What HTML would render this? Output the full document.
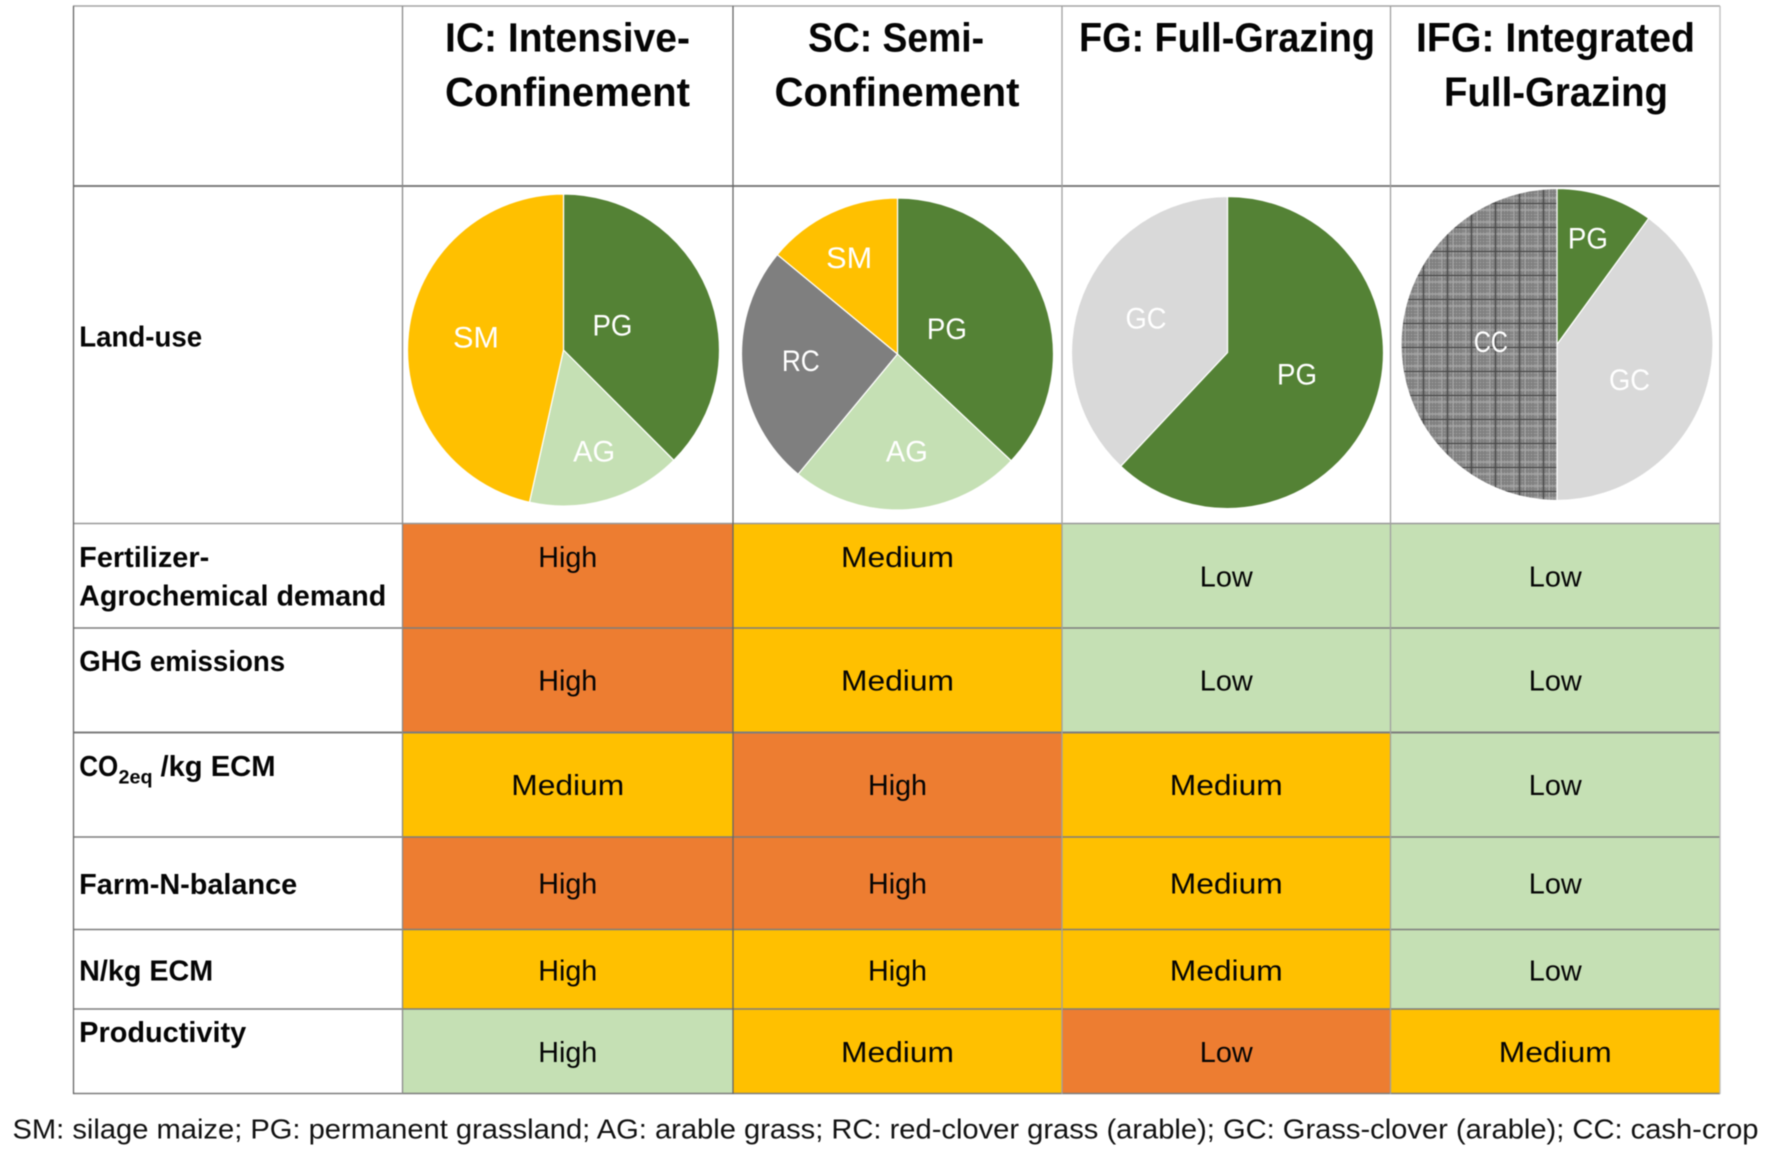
<!DOCTYPE html>
<html lang="en">
<head>
<meta charset="utf-8">
<title>Dairy system comparison</title>
<style>
  html, body { margin: 0; padding: 0; background: #fff; }
  #chart { display: block; width: 1772px; height: 1153px; filter: blur(0.5px); }
  text { font-family: "Liberation Sans", sans-serif; fill: #050505; }
  .hdr { font-size: 41px; font-weight: bold; text-anchor: middle; }
  .row { font-size: 28.5px; font-weight: bold; }
  .val { font-size: 28.5px; text-anchor: middle; }
  .lbl { font-size: 29.5px; text-anchor: middle; fill: #fff; }
  .foot { font-size: 28px; fill: #111; }
  .h { stroke: #7d7d7d; stroke-width: 1.5; }
  .v { stroke: #8a8a8a; stroke-width: 1.3; }
</style>
</head>
<body>
<svg id="chart" xmlns="http://www.w3.org/2000/svg" width="1772" height="1153" viewBox="0 0 1772 1153">
  <defs>
    <pattern id="cash-crop-hatch" patternUnits="userSpaceOnUse" x="1440" y="300" width="24" height="24">
      <rect width="24" height="24" fill="#929292"/>
      <path d="M3 0V24M6 0V24M9 0V24M12 0V24M15 0V24M18 0V24M21 0V24M0 3H24M0 9H24M0 12H24M0 15H24M0 21H24" stroke="#7b7b7b" stroke-width="1"/>
      <path d="M2 0V24M13 0V24M0 6H24M0 18H24" stroke="#ababab" stroke-width="1"/>
      <path d="M7.5 0V24M0 23.5H24" stroke="#444" stroke-width="1.2"/>
    </pattern>
  </defs>

  <rect x="0" y="0" width="1772" height="1153" fill="#fff"/>
  <g id="cells"></g>
  <g id="pies"></g>

  <g>
    <line class="h" x1="73" x2="1720" y1="6" y2="6" style="stroke:#a5a5a5"/>
    <line class="h" x1="73" x2="1720" y1="186" y2="186" style="stroke-width:2"/>
    <line class="h" x1="73" x2="1720" y1="523.5" y2="523.5" style="stroke:#999"/>
    <line class="h" x1="73" x2="1720" y1="628" y2="628"/>
    <line class="h" x1="73" x2="1720" y1="732.5" y2="732.5" style="stroke-width:2"/>
    <line class="h" x1="73" x2="1720" y1="837" y2="837"/>
    <line class="h" x1="73" x2="1720" y1="929.5" y2="929.5"/>
    <line class="h" x1="73" x2="1720" y1="1009" y2="1009"/>
    <line class="h" x1="73" x2="1720" y1="1093.5" y2="1093.5"/>
    <line class="v" x1="73.5" x2="73.5" y1="6" y2="1094" style="stroke:#666"/>
    <line class="v" x1="402.5" x2="402.5" y1="6" y2="1094"/>
    <line class="v" x1="733" x2="733" y1="6" y2="1094" style="stroke:#666"/>
    <line class="v" x1="1062" x2="1062" y1="6" y2="1094" style="stroke:#a0a0a0"/>
    <line class="v" x1="1390.5" x2="1390.5" y1="6" y2="1094" style="stroke:#a0a0a0"/>
    <line class="v" x1="1720" x2="1720" y1="6" y2="1094" style="stroke:#bcbcbc"/>
  </g>

  <g>
    <text class="hdr" x="567.5" y="51.5" textLength="245" lengthAdjust="spacingAndGlyphs">IC: Intensive-</text>
    <text class="hdr" x="567.5" y="106" textLength="245" lengthAdjust="spacingAndGlyphs">Confinement</text>
    <text class="hdr" x="896" y="51.5" textLength="176" lengthAdjust="spacingAndGlyphs">SC: Semi-</text>
    <text class="hdr" x="897" y="106" textLength="245" lengthAdjust="spacingAndGlyphs">Confinement</text>
    <text class="hdr" x="1227" y="51.5" textLength="296" lengthAdjust="spacingAndGlyphs">FG: Full-Grazing</text>
    <text class="hdr" x="1555.5" y="51.5" textLength="279" lengthAdjust="spacingAndGlyphs">IFG: Integrated</text>
    <text class="hdr" x="1556" y="106" textLength="224" lengthAdjust="spacingAndGlyphs">Full-Grazing</text>
  </g>

  <g>
    <text class="row" x="79.2" y="346.3" textLength="123" lengthAdjust="spacingAndGlyphs">Land-use</text>
    <text class="row" x="79.2" y="567" textLength="130" lengthAdjust="spacingAndGlyphs">Fertilizer-</text>
    <text class="row" x="79.2" y="605.5" textLength="307" lengthAdjust="spacingAndGlyphs">Agrochemical demand</text>
    <text class="row" x="79.2" y="671" textLength="206" lengthAdjust="spacingAndGlyphs">GHG emissions</text>
    <text class="row" x="79.2" y="775.8" textLength="39" lengthAdjust="spacingAndGlyphs">CO</text>
    <text class="row" x="118.5" y="783.3" textLength="34" lengthAdjust="spacingAndGlyphs" style="font-size:19px">2eq</text>
    <text class="row" x="160.5" y="775.8" textLength="115" lengthAdjust="spacingAndGlyphs">/kg ECM</text>
    <text class="row" x="79.2" y="893.8" textLength="218" lengthAdjust="spacingAndGlyphs">Farm-N-balance</text>
    <text class="row" x="79.2" y="980.3" textLength="134" lengthAdjust="spacingAndGlyphs">N/kg ECM</text>
    <text class="row" x="79.2" y="1041.8" textLength="167" lengthAdjust="spacingAndGlyphs">Productivity</text>
  </g>

  <text class="foot" x="12.5" y="1138.5" textLength="1746" lengthAdjust="spacingAndGlyphs">SM: silage maize; PG: permanent grassland; AG: arable grass; RC: red-clover grass (arable); GC: Grass-clover (arable); CC: cash-crop</text>
</svg>

<script>
// ---- Chart data ----
const icSlices = ["PG", "AG", "SM"];
const icShares = [37.5, 16, 46.5];
const scSlices = ["PG", "AG", "RC", "SM"];
const scShares = [37, 24, 25, 14];
const fgSlices = ["PG", "GC"];
const fgShares = [62, 38];
const ifgSlices = ["PG", "GC", "CC"];
const ifgShares = [10, 40, 50];

const ratingTextRow1 = ["High", "Medium", "Low", "Low"];
const ratingTextRow2 = ["High", "Medium", "Low", "Low"];
const ratingTextRow3 = ["Medium", "High", "Medium", "Low"];
const ratingTextRow4 = ["High", "High", "Medium", "Low"];
const ratingTextRow5 = ["High", "High", "Medium", "Low"];
const ratingTextRow6 = ["High", "Medium", "Low", "Medium"];

const impactRow1 = ["bad", "mid", "good", "good"];
const impactRow2 = ["bad", "mid", "good", "good"];
const impactRow3 = ["mid", "bad", "mid", "good"];
const impactRow4 = ["bad", "bad", "mid", "good"];
const impactRow5 = ["mid", "mid", "mid", "good"];
const impactRow6 = ["good", "mid", "bad", "mid"];

// ---- Layout and styling (separate from the data) ----
const SVG_NS = "http://www.w3.org/2000/svg";
const gridX = [402.5, 733, 1062, 1390.5, 1720];
const gridY = [523.5, 628, 732.5, 837, 929.5, 1009, 1093.5];
const valueBaselines = [586.5, 690.5, 795, 893.5, 980.5, 1062];
const impactColors = { bad: "#ED7D31", mid: "#FFC000", good: "#C5E0B4" };
const ratingWidths = { High: 59, Medium: 113, Low: 53 };
const sliceColors = { PG: "#548235", AG: "#C5E0B4", SM: "#FFC000", RC: "#7F7F7F", GC: "#D9D9D9", CC: "url(#cash-crop-hatch)" };
const labelWidths = { PG: 40, AG: 42, SM: 46, RC: 38, GC: 41, CC: 34 };
const PIE_RADIUS = 156;
const LABEL_FRACTION = 0.6;

const ratingTextRows = [ratingTextRow1, ratingTextRow2, ratingTextRow3, ratingTextRow4, ratingTextRow5, ratingTextRow6];
const impactRows = [impactRow1, impactRow2, impactRow3, impactRow4, impactRow5, impactRow6];

const pieDefs = [
  { key: "ic",  slices: icSlices,  shares: icShares,  cx: 563.5,  cy: 350,   nudges: [[-37.5, 11], [4.5, 11], [5.5, -2.5]] },
  { key: "sc",  slices: scSlices,  shares: scShares,  cx: 897.5,  cy: 354,   nudges: [[-36.5, 11.5], [3.5, 3.5], [-3.5, -2.5], [-8.5, -12]] },
  { key: "fg",  slices: fgSlices,  shares: fgShares,  cx: 1227.5, cy: 352.5, nudges: [[-17.5, -13], [5.5, 0]] },
  { key: "ifg", slices: ifgSlices, shares: ifgShares, cx: 1557,   cy: 344.5, nudges: [[2, -17.5], [-16.5, 6], [27.5, -3]] }
];

// ---- Axis functions ----
function colLeft(c) { return gridX[c]; }
function colCenter(c) { return (gridX[c] + gridX[c + 1]) / 2; }
function rowTop(r) { return gridY[r]; }
function valueBaseline(r, c) {
  if (r === 0 && c < 2) { return 567; }
  return valueBaselines[r];
}
function shareToAngle(share, total) { return share / total * Math.PI * 2; }
function polarX(cx, radius, angle) { return cx + radius * Math.sin(angle); }
function polarY(cy, radius, angle) { return cy - radius * Math.cos(angle); }

function svgEl(tag, attrs) {
  const el = document.createElementNS(SVG_NS, tag);
  Object.keys(attrs).forEach(function (k) { el.setAttribute(k, attrs[k]); });
  return el;
}

// ---- Rating cells ----
const cellsGroup = document.getElementById("cells");
ratingTextRows.forEach(function (texts, r) {
  texts.forEach(function (rating, c) {
    const rect = svgEl("rect", {
      x: colLeft(c),
      y: rowTop(r),
      width: gridX[c + 1] - gridX[c],
      height: gridY[r + 1] - gridY[r],
      fill: impactColors[impactRows[r][c]]
    });
    
    
    cellsGroup.appendChild(rect);

    const label = svgEl("text", {
      class: "val",
      x: colCenter(c),
      y: valueBaseline(r, c),
      textLength: ratingWidths[rating],
      lengthAdjust: "spacingAndGlyphs"
    });
    
    
    label.textContent = rating;
    cellsGroup.appendChild(label);
  });
});

// ---- Pies ----
const piesGroup = document.getElementById("pies");
pieDefs.forEach(function (pie) {
  const total = pie.shares.reduce(function (a, b) { return a + b; }, 0);
  let start = 0;
  const labels = [];
  pie.shares.forEach(function (share, i) {
    const sweep = shareToAngle(share, total);
    const end = start + sweep;
    const largeArc = sweep > Math.PI ? 1 : 0;
    const d = "M" + pie.cx + " " + pie.cy +
      "L" + polarX(pie.cx, PIE_RADIUS, start) + " " + polarY(pie.cy, PIE_RADIUS, start) +
      "A" + PIE_RADIUS + " " + PIE_RADIUS + " 0 " + largeArc + " 1 " +
      polarX(pie.cx, PIE_RADIUS, end) + " " + polarY(pie.cy, PIE_RADIUS, end) + "Z";
    const slice = svgEl("path", {
      d: d,
      fill: sliceColors[pie.slices[i]],
      stroke: "#fff",
      "stroke-width": 1.2
    });
    
    
    piesGroup.appendChild(slice);

    const mid = start + sweep / 2;
    const nudge = pie.nudges[i];
    const text = svgEl("text", {
      class: "lbl",
      x: polarX(pie.cx, PIE_RADIUS * LABEL_FRACTION, mid) + nudge[0],
      y: polarY(pie.cy, PIE_RADIUS * LABEL_FRACTION, mid) + nudge[1] + 10.5,
      textLength: labelWidths[pie.slices[i]],
      lengthAdjust: "spacingAndGlyphs"
    });
    
    
    text.textContent = pie.slices[i];
    labels.push(text);
    start = end;
  });
  labels.forEach(function (t) { piesGroup.appendChild(t); });
});
</script>
</body>
</html>
